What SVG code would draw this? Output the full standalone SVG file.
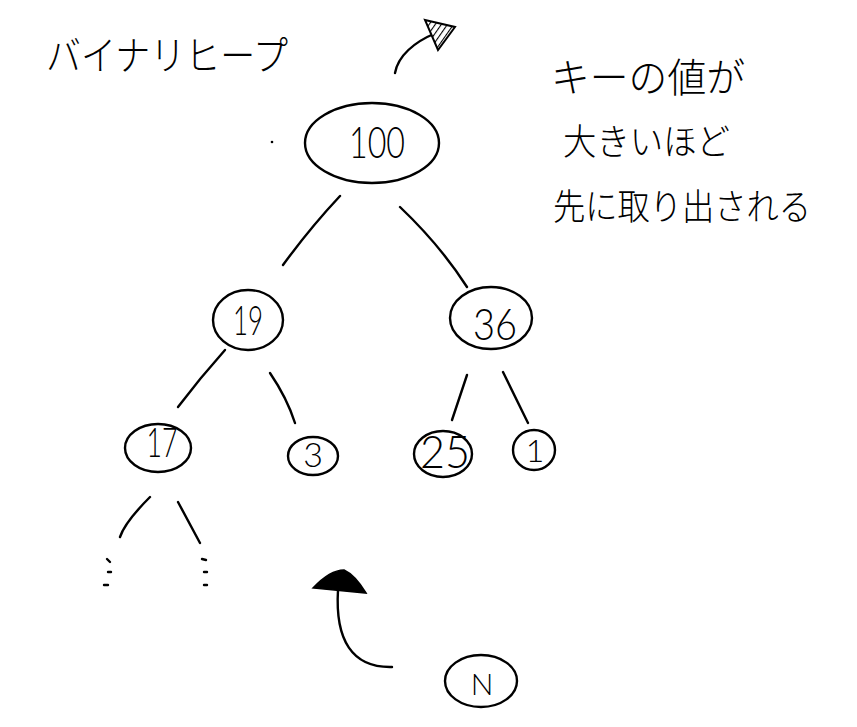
<svg xmlns="http://www.w3.org/2000/svg" width="857" height="727" viewBox="0 0 857 727">
<style>
.ln{fill:none;stroke:#000;stroke-width:2.4;stroke-linecap:round}
.nd{fill:#fff;stroke:#000;stroke-width:2.4}
.num{font-family:Lato,"Liberation Sans","DejaVu Sans",sans-serif;font-weight:300;fill:#000;text-anchor:middle}
.jp{font-family:"Noto Sans CJK JP","Noto Sans",sans-serif;font-weight:300;fill:#000}
</style>
<defs>
<pattern id="hatch" width="5" height="5" patternUnits="userSpaceOnUse" patternTransform="rotate(35)">
<rect width="5" height="5" fill="#fff"/>
<line x1="0" y1="0" x2="0" y2="5" stroke="#000" stroke-width="2.2"/>
</pattern>
</defs>
<rect width="857" height="727" fill="#fff"/>

<g id="title"><text class="jp" x="46" y="70" font-size="40" textLength="242" lengthAdjust="spacingAndGlyphs">バイナリヒープ</text></g>

<g id="note">
<text class="jp" x="551" y="92" font-size="40" textLength="194" lengthAdjust="spacingAndGlyphs">キーの値が</text>
<text class="jp" x="563" y="155" font-size="36" textLength="167" lengthAdjust="spacingAndGlyphs">大きいほど</text>
<text class="jp" x="553" y="220" font-size="36" textLength="258" lengthAdjust="spacingAndGlyphs">先に取り出される</text>
</g>

<g id="connectors">
<path class="ln" d="M340 196 Q310 228 283 265"/>
<path class="ln" d="M400 207 Q440 245 467 287"/>
<path class="ln" d="M225 350 Q200 378 178 407"/>
<path class="ln" d="M270 373 Q287 398 295 423"/>
<path class="ln" d="M467 375 L452 420"/>
<path class="ln" d="M503 372 L528 423"/>
<path class="ln" d="M150 497 Q125 522 120 537"/>
<path class="ln" d="M178 502 L200 543"/>
<g id="more-left" class="ln"><path d="M107 559 L110 562"/><path d="M108 572 L111 572"/><path d="M104 585 L108 585"/></g>
<g id="more-right" class="ln"><path d="M202 559 L206 560"/><path d="M204 572 L207 572"/><path d="M204 585 L207 585"/></g>
<g id="arrow-up">
<path class="ln" d="M395 73 C398 56 414 42 436 33"/>
<path d="M425 20 L455 27 L438 50 Z" fill="url(#hatch)" stroke="#000" stroke-width="2"/>
</g>
<g id="arrow-insert">
<path class="ln" d="M392 667 C352 668 335 640 338 590"/>
<path d="M313 588 Q330 570 344 570 Q355 575 366 593 Z" fill="#000" stroke="#000" stroke-width="1.5"/>
</g>
</g>

<circle cx="272" cy="142" r="1.3" fill="#000"/>

<g id="n100"><ellipse class="nd" cx="372" cy="143" rx="67" ry="40"/><text class="num" x="377" y="158" font-size="44" textLength="56" lengthAdjust="spacingAndGlyphs">100</text></g>
<g id="n19"><ellipse class="nd" cx="248" cy="320" rx="35" ry="30"/><text class="num" x="248" y="335" font-size="42" textLength="30" lengthAdjust="spacingAndGlyphs">19</text></g>
<g id="n36"><ellipse class="nd" cx="491" cy="318" rx="41" ry="31"/><text class="num" x="495" y="340" font-size="44" textLength="44" lengthAdjust="spacingAndGlyphs">36</text></g>
<g id="n17"><ellipse class="nd" cx="158" cy="448" rx="33" ry="24"/><text class="num" x="162" y="457" font-size="42" textLength="31" lengthAdjust="spacingAndGlyphs">17</text></g>
<g id="n3"><ellipse class="nd" cx="313" cy="456" rx="25" ry="19"/><text class="num" x="313" y="467" font-size="34">3</text></g>
<g id="n25"><ellipse class="nd" cx="443" cy="454" rx="29" ry="23"/><text class="num" x="445" y="468" font-size="46" textLength="50" lengthAdjust="spacingAndGlyphs">25</text></g>
<g id="n1"><ellipse class="nd" cx="534" cy="450" rx="21" ry="20"/><text class="num" x="535" y="462" font-size="32">1</text></g>
<g id="nN"><ellipse class="nd" cx="481" cy="681" rx="36" ry="26"/><text class="num" x="482" y="695" font-size="30">N</text></g>
</svg>
